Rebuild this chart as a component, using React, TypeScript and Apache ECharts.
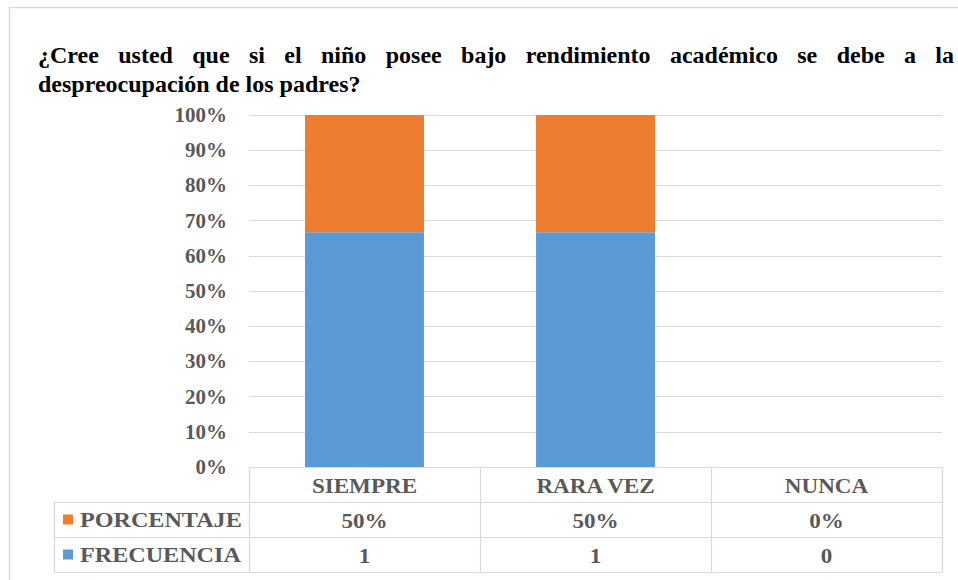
import React, { useEffect, useRef } from "react";
import * as echarts from "echarts";

const TITLE_LINE1 = "¿Cree usted que si el niño posee bajo rendimiento académico se debe a la";
const TITLE_LINE2 = "despreocupación de los padres?";
const categories = ["SIEMPRE", "RARA VEZ", "NUNCA"];
const seriesNames = ["PORCENTAJE", "FRECUENCIA"];
const frecuencia = [1, 1, 0];
const porcentaje = [50, 50, 0]; // in %
const porcentajeLabels = ["50%", "50%", "0%"];
const frecuenciaLabels = ["1", "1", "0"];

const FONT = "'Liberation Serif', 'Times New Roman', 'DejaVu Serif', serif";
const BLUE = "#5B9BD5";
const ORANGE = "#ED7D31";
const GRAY = "#595959";
const LINE = "#d9d9d9";

export default function App() {
  const ref = useRef<HTMLDivElement | null>(null);
  useEffect(() => {
    const el = ref.current;
    if (!el) return;
    const chart = echarts.init(el, null, { renderer: "svg" });
    const GRID = { left: 249, top: 115, width: 693, height: 352 };
    const totals = categories.map((_, i) => frecuencia[i] + porcentaje[i] / 100);
    const frecShare = frecuencia.map((v, i) => (totals[i] ? (v / totals[i]) * 100 : 0));
    const pctShare = porcentaje.map((v, i) => (totals[i] ? (v / 100 / totals[i]) * 100 : 0));

    chart.setOption({
      animation: false,
      grid: { ...GRID, containLabel: false },
      xAxis: {
        type: "category",
        data: categories,
        axisLine: { show: false },
        axisTick: { show: false },
        axisLabel: { show: false },
      },
      yAxis: {
        type: "value",
        min: 0,
        max: 100,
        interval: 10,
        axisLabel: {
          formatter: "{value}%",
          color: GRAY,
          fontFamily: FONT,
          fontWeight: "bold",
          fontSize: 21,
          margin: 22,
        },
        splitLine: { lineStyle: { color: LINE, width: 1 } },
        axisLine: { show: false },
        axisTick: { show: false },
      },
      series: [
        { name: seriesNames[1], type: "bar", stack: "t", data: frecShare, itemStyle: { color: BLUE }, barWidth: "51.5%" },
        { name: seriesNames[0], type: "bar", stack: "t", data: pctShare, itemStyle: { color: ORANGE }, barWidth: "51.5%" },
      ],
    });

    // measure text for justified title
    const cv = document.createElement("canvas");
    const ctx = cv.getContext("2d")!;
    const titleSize = 24;
    ctx.font = `bold ${titleSize}px ${FONT}`;
    const words = TITLE_LINE1.split(" ");
    const wWidths = words.map((w) => ctx.measureText(w).width);
    const x0 = 38, x1 = 954;
    const gap = (x1 - x0 - wWidths.reduce((a, b) => a + b, 0)) / (words.length - 1);
    const graphics: any[] = [];
    let cx = x0;
    words.forEach((w, i) => {
      graphics.push({
        type: "text",
        x: cx,
        y: 55,
        style: { text: w, fontSize: titleSize, fontFamily: FONT, fontWeight: "bold", fill: "#000", textAlign: "left", verticalAlign: "middle" },
      });
      cx += wWidths[i] + gap;
    });
    graphics.push({
      type: "text",
      x: x0,
      y: 84,
      style: { text: TITLE_LINE2, fontSize: titleSize, fontFamily: FONT, fontWeight: "bold", fill: "#000", textAlign: "left", verticalAlign: "middle" },
    });

    // outer border
    graphics.push({
      type: "rect",
      shape: { x: 9.5, y: 7.5, width: 1000, height: 700 },
      style: { fill: "none", stroke: LINE, lineWidth: 1.5 },
      z: -1,
    });

    // data table
    const left = GRID.left, right = GRID.left + GRID.width;
    const top = GRID.top + GRID.height;
    const rowH = 35;
    const labelLeft = 54;
    const band = GRID.width / categories.length;
    const hline = (xa: number, xb: number, y: number) =>
      graphics.push({ type: "line", shape: { x1: xa, y1: y + 0.5, x2: xb, y2: y + 0.5 }, style: { stroke: LINE, lineWidth: 1.2 } });
    const vline = (x: number, ya: number, yb: number) =>
      graphics.push({ type: "line", shape: { x1: x + 0.5, y1: ya, x2: x + 0.5, y2: yb }, style: { stroke: LINE, lineWidth: 1.2 } });
    hline(left, right, top);
    hline(labelLeft, right, top + rowH);
    hline(labelLeft, right, top + 2 * rowH);
    hline(labelLeft, right, top + 3 * rowH);
    for (let i = 0; i <= categories.length; i++) vline(left + band * i, top, top + 3 * rowH);
    vline(labelLeft, top + rowH, top + 3 * rowH);

    const tStyle = (text: string, align: string) => ({
      text,
      fontSize: 21,
      fontFamily: FONT,
      fontWeight: "bold",
      fill: GRAY,
      textAlign: align,
      verticalAlign: "middle",
    });
    const rows = [categories, porcentajeLabels, frecuenciaLabels];
    categories.forEach((c, i) => {
      let px = chart.convertToPixel({ xAxisIndex: 0 } as any, i) as any;
      if (typeof px !== "number" || isNaN(px)) px = left + band * (i + 0.5);
      rows.forEach((r, ri) => {
        graphics.push({ type: "text", x: px, y: top + rowH * ri + rowH / 2 + 1, scaleX: 1.1, style: tStyle(r[i], "center") });
      });
    });
    const legendColors = [ORANGE, BLUE];
    seriesNames.forEach((n, k) => {
      const yc = top + rowH * (k + 1) + rowH / 2;
      graphics.push({ type: "rect", shape: { x: 63, y: yc - 5, width: 10, height: 10 }, style: { fill: legendColors[k] } });
      graphics.push({ type: "text", x: 80, y: yc + 1, scaleX: 1.15, style: tStyle(n, "left") });
    });

    chart.setOption({ graphic: graphics });
    return () => chart.dispose();
  }, []);
  return <div ref={ref} style={{ position: "fixed", left: 0, top: 0, width: 958, height: 580, background: "#fff" }} />;
}
